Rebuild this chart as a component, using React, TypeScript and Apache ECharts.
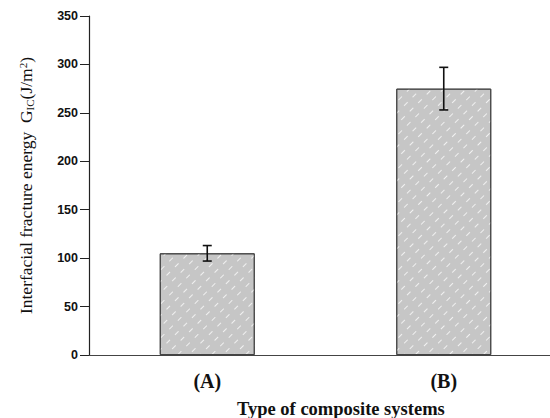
import React, { useEffect, useRef } from "react";
import * as echarts from "echarts";

const categories = ["(A)", "(B)"];
const values = [105, 275];
const errLow = [97, 253];
const errHigh = [113, 297];
const yTicks = [0, 50, 100, 150, 200, 250, 300, 350];

export default function App() {
  const ref = useRef<HTMLDivElement>(null);
  useEffect(() => {
    if (!ref.current) return;
    const chart = echarts.init(ref.current, null, { renderer: "svg" });
    chart.setOption({
      animation: false,
      backgroundColor: "#ffffff",
      grid: { left: 89, top: 16, bottom: 63, width: 473 },
      xAxis: {
        type: "category",
        data: categories,
        axisLine: { lineStyle: { color: "#444", width: 1.2 } },
        axisTick: { alignWithLabel: true, length: 6, lineStyle: { color: "#333" } },
        axisLabel: {
          margin: 16,
          fontFamily: "Liberation Serif",
          fontWeight: "bold",
          fontSize: 20,
          color: "#111",
        },
      },
      yAxis: {
        type: "value",
        min: yTicks[0],
        max: yTicks[yTicks.length - 1],
        interval: 50,
        splitLine: { show: false },
        axisLine: { show: true, lineStyle: { color: "#222", width: 1.2 } },
        axisTick: { show: true, length: 9, lineStyle: { color: "#222" } },
        axisLabel: {
          margin: 11,
          fontFamily: "Liberation Sans",
          fontWeight: "bold",
          fontSize: 12.5,
          color: "#111",
        },
        name: "Interfacial fracture energy  G{sub|IC}(J/m{sup|2})",
        nameLocation: "middle",
        nameRotate: 90,
        nameGap: 54,
        nameTextStyle: {
          fontFamily: "Liberation Serif",
          fontSize: 17.5,
          color: "#111",
          rich: {
            sub: { fontFamily: "Liberation Serif", fontSize: 11, color: "#111", verticalAlign: "bottom", padding: [7, 0, 0, 0] },
            sup: { fontFamily: "Liberation Serif", fontSize: 11, color: "#111", verticalAlign: "top", padding: [0, 0, 7, 0] },
          },
        },
      },
      graphic: [
        {
          type: "text",
          left: 237,
          top: 399,
          style: {
            text: "Type of composite systems",
            font: "bold 18.5px 'Liberation Serif'",
            fill: "#111",
          },
        },
      ],
      series: [
        {
          type: "bar",
          data: values,
          barWidth: 95,
          itemStyle: {
            color: "#c6c6c6",
            borderColor: "#444",
            borderWidth: 1,
            decal: {
              symbol: "rect",
              symbolSize: 1,
              color: "rgba(255,255,255,0.75)",
              dashArrayX: [1, 7],
              dashArrayY: [5, 7],
              rotation: Math.PI / 4,
            },
          },
        },
        {
          type: "custom",
          data: categories.map((_, i) => [i, errLow[i], errHigh[i]]),
          renderItem: (params: any, api: any) => {
            const i = api.value(0);
            const lo = api.coord([i, api.value(1)]);
            const hi = api.coord([i, api.value(2)]);
            const hw = 4.5;
            const style = { stroke: "#111", lineWidth: 1.6 };
            return {
              type: "group",
              children: [
                { type: "line", shape: { x1: lo[0], y1: lo[1], x2: hi[0], y2: hi[1] }, style },
                { type: "line", shape: { x1: lo[0] - hw, y1: lo[1], x2: lo[0] + hw, y2: lo[1] }, style },
                { type: "line", shape: { x1: hi[0] - hw, y1: hi[1], x2: hi[0] + hw, y2: hi[1] }, style },
              ],
            };
          },
          z: 10,
        },
      ],
    });
    return () => chart.dispose();
  }, []);
  return (
    <div
      style={{ position: "fixed", left: 0, top: 0, width: 550, height: 418, overflow: "hidden", background: "#fff" }}
    >
      <div ref={ref} style={{ width: 580, height: 418 }} />
    </div>
  );
}
